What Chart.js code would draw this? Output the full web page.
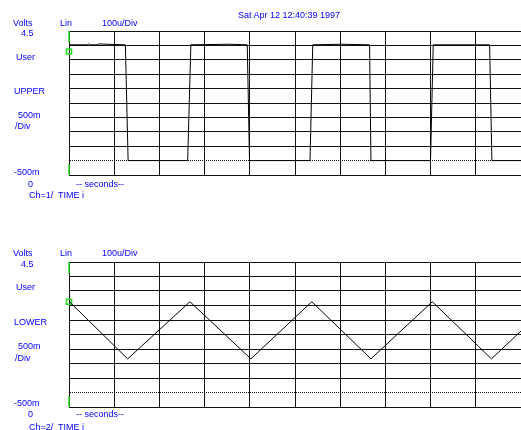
<!DOCTYPE html>
<html>
<head>
<meta charset="utf-8">
<script src="https://cdn.jsdelivr.net/npm/chart.js@4/dist/chart.umd.min.js"></script>
<style>
  html, body { margin: 0; padding: 0; background: #fff; overflow: hidden; }
  body { width: 521px; height: 430px; position: relative; }
  canvas { position: absolute; left: 0; }
  .lbl { position: absolute; font: 9px "Liberation Sans", Arial, sans-serif; line-height: 10px;
         color: #0000ff; white-space: pre; }
</style>
</head>
<body>
<canvas id="upper" width="521" height="200" style="top:0px"></canvas>
<canvas id="lower" width="521" height="200" style="top:231px"></canvas>

<script>
// Time axis in microseconds (100u/Div), volts 500m/Div from -500m to 4.5
const timeWindow = [0, 994];
const voltRange = [-0.5, 4.5];

// Channel 1 - square wave (UPPER)
const upperTimes = [1, 40, 43, 47, 62, 66, 124, 130, 261, 268, 350, 392, 397, 530, 536, 600, 661, 664, 795, 801, 925, 930, 994];
const upperVolts = [4.02, 4.02, 4.05, 4.02, 4.02, 4.05, 4.02, 0, 0, 4.02, 4.04, 4.02, 0, 0, 4.02, 4.04, 4.02, 0, 0, 4.02, 4.02, 0, 0];
const upperMarker = 3.79;

// Channel 2 - triangle wave (LOWER)
const lowerTimes = [1, 129, 266, 400, 534, 664, 799, 929, 994];
const lowerVolts = [3.13, 1.16, 3.13, 1.16, 3.13, 1.16, 3.13, 1.16, 2.12];
const lowerMarker = 3.13;

// short green marks on the left edge (top and bottom of screen)
const edgeVolts = [4.5, 4.1, null, -0.12, -0.5];

const labels = [
  // [text, left, centerY]
  ['Sat Apr 12 12:40:39 1997', 238, 15],
  ['Volts', 13, 23], ['Lin', 60, 23], ['100u/Div', 102, 23],
  ['4.5', 21, 33], ['User', 16, 57], ['UPPER', 14, 91],
  ['500m', 18, 115], ['/Div', 15, 126], ['-500m', 14, 172],
  ['0', 28, 184], ['-- seconds--', 76, 184], ['Ch=1/  TIME i', 29, 195],
  ['Volts', 13, 253], ['Lin', 60, 253], ['100u/Div', 102, 253],
  ['4.5', 21, 264], ['User', 16, 287], ['LOWER', 14, 322],
  ['500m', 18, 346], ['/Div', 15, 358], ['-500m', 14, 403],
  ['0', 28, 414], ['-- seconds--', 76, 414], ['Ch=2/  TIME i', 29, 427]
];

labels.forEach(([text, x, cy]) => {
  const div = document.createElement('div');
  div.className = 'lbl';
  div.textContent = text;
  div.style.left = x + 'px';
  div.style.top = (cy - 5) + 'px';
  document.body.appendChild(div);
});

const gridColor = '#111';

function makeScope(id, times, volts, marker, bottomPad) {
  const ctx = document.getElementById(id).getContext('2d');
  return new Chart(ctx, {
    type: 'line',
    data: {
      datasets: [
        {
          data: times.map((t, i) => ({ x: t, y: volts[i] })),
          borderColor: '#000',
          borderWidth: 1,
          pointRadius: 0,
          tension: 0
        },
        {
          data: edgeVolts.map(v => ({ x: 0, y: v })),
          borderColor: '#22dd22',
          borderWidth: 1.5,
          pointRadius: 0,
          spanGaps: false,
          clip: false
        },
        {
          type: 'scatter',
          data: [{ x: 0, y: marker }],
          pointStyle: 'rect',
          pointRadius: 3.6,
          pointBorderColor: '#22dd22',
          pointBackgroundColor: 'rgba(0,0,0,0)',
          pointBorderWidth: 1.5,
          clip: false
        }
      ]
    },
    options: {
      responsive: false,
      animation: false,
      events: [],
      layout: { autoPadding: false, padding: { left: 69, top: 31, right: 0, bottom: bottomPad } },
      plugins: { legend: { display: false }, tooltip: { enabled: false } },
      scales: {
        x: {
          type: 'linear',
          bounds: 'data',
          min: timeWindow[0],
          max: timeWindow[1],
          ticks: { display: false, stepSize: 100, includeBounds: false },
          grid: { color: gridColor, lineWidth: 1, drawTicks: false },
          border: { color: gridColor }
        },
        y: {
          min: voltRange[0],
          max: voltRange[1],
          ticks: { display: false, stepSize: 0.5 },
          grid: { color: gridColor, lineWidth: 1, drawTicks: false },
          border: {
            color: gridColor,
            // ground reference (0 V) shown dotted
            dash: c => (c.type === 'tick' && c.tick && c.tick.value === 0) ? [1, 1] : []
          }
        }
      }
    }
  });
}

makeScope('upper', upperTimes, upperVolts, upperMarker, 25);
makeScope('lower', lowerTimes, lowerVolts, lowerMarker, 24);
</script>
</body>
</html>
